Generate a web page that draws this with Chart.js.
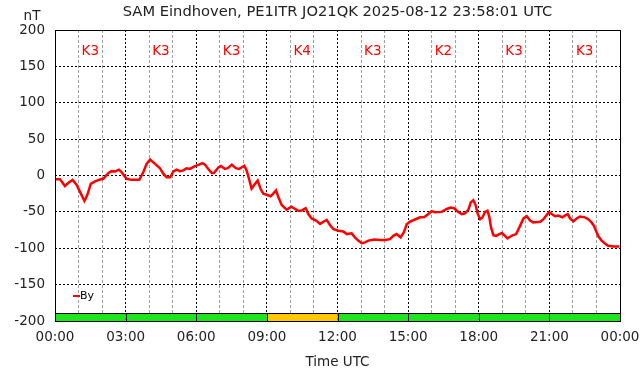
<!DOCTYPE html>
<html>
<head>
<meta charset="utf-8">
<script src="https://cdn.jsdelivr.net/npm/chart.js@4"></script>
<style>
html,body{margin:0;padding:0;background:#fff;}
#wrap{width:642px;height:376px;position:relative;}
</style>
</head>
<body>
<div id="wrap"><canvas id="c" width="642" height="376"></canvas></div>
<script>
const chartTitle = 'SAM Eindhoven, PE1ITR JO21QK 2025-08-12 23:58:01 UTC';
const yUnit = 'nT';
const xTitle = 'Time UTC';
const seriesName = 'By';
const timesH = [0.00,0.21,0.42,0.57,0.75,0.92,1.13,1.25,1.37,1.52,1.70,1.91,2.05,2.27,2.41,2.55,2.72,2.83,3.04,3.26,3.58,3.75,3.89,4.04,4.25,4.46,4.60,4.74,4.89,5.03,5.17,5.31,5.45,5.59,5.73,5.92,6.09,6.26,6.37,6.51,6.66,6.75,6.94,7.05,7.22,7.34,7.51,7.68,7.82,8.04,8.14,8.24,8.35,8.50,8.61,8.74,8.85,8.99,9.16,9.27,9.39,9.49,9.63,9.84,10.05,10.19,10.34,10.48,10.65,10.76,10.90,11.09,11.26,11.40,11.54,11.68,11.82,12.03,12.25,12.39,12.60,12.74,12.88,13.03,13.17,13.31,13.56,13.80,14.02,14.23,14.37,14.51,14.68,14.82,14.94,15.08,15.29,15.51,15.69,15.86,16.00,16.14,16.43,16.64,16.81,16.95,17.13,17.28,17.42,17.56,17.66,17.77,17.87,17.96,18.06,18.15,18.27,18.37,18.45,18.52,18.62,18.74,18.87,18.98,19.08,19.22,19.41,19.59,19.73,19.90,20.04,20.18,20.32,20.61,20.75,20.89,20.99,21.10,21.24,21.38,21.55,21.69,21.78,21.88,22.02,22.16,22.30,22.51,22.65,22.79,22.89,22.98,23.08,23.22,23.36,23.50,23.71,23.97];
const byValues = [-5,-5,-14.5,-10,-6,-13,-27,-35,-27,-11.5,-8,-5.5,-4.5,3.5,6,5.5,8,4.5,-4.5,-6,-6,4.5,16,22,16,10,2.5,-2.5,-2.5,5.5,8,6,7,10,9,12.5,14.5,17,15,9,3.5,3.5,11,13,9,10,15,10,9,13.5,7,-4.5,-18,-11.5,-7,-19,-25,-26.5,-28.5,-25,-20.5,-30,-40.5,-47,-43,-46,-48.5,-48,-45,-53,-59,-62,-66.5,-63.5,-61,-68,-73.5,-76,-77,-80.5,-79.5,-85,-89.5,-93,-92,-89.5,-88,-88.5,-88.5,-87.5,-83,-80.5,-85,-78,-67,-63.5,-60.5,-57.5,-57,-53,-49,-50.5,-50,-46,-44,-45,-50,-53,-52,-47,-37,-34,-41,-53,-60,-58,-50,-48.5,-57,-71,-82,-83,-80.5,-79,-82,-86.5,-82.5,-80.5,-71,-59,-56,-62,-64.5,-63.5,-60,-54,-50.5,-53,-56,-55,-57.5,-54.5,-53,-59,-63,-59,-56.5,-57.5,-60,-64.5,-69,-76,-83.5,-89.5,-93.5,-96.5,-97.5,-97.5];
const kStartH = [0,3,6,9,12,15,18,21];
const kIndex = [3,3,3,4,3,2,3,3];
const xTickLabels = ['00:00','03:00','06:00','09:00','12:00','15:00','18:00','21:00','00:00'];
const yMin = -200, yMax = 200, yStep = 50;

const FONT = "'DejaVu Sans', sans-serif";

const overlay = {
  id: 'overlay',
  beforeDatasetsDraw(chart) {
    const {ctx, chartArea: a, scales: {x, y}} = chart;
    ctx.save();
    const yb0 = y.getPixelForValue(-200), yb1 = y.getPixelForValue(-189);
    kStartH.forEach((h, i) => {
      const x0 = x.getPixelForValue(h), x1 = x.getPixelForValue(h + 3);
      ctx.fillStyle = kIndex[i] >= 4 ? '#ffc800' : '#1ee61e';
      ctx.fillRect(x0, yb1, x1 - x0, yb0 - yb1);
      ctx.strokeStyle = '#000';
      ctx.lineWidth = 1;
      ctx.strokeRect(Math.round(x0) + 0.5, Math.round(yb1) + 0.5, Math.round(x1 - x0), Math.round(yb0 - yb1));
    });
    ctx.fillStyle = '#ff0000';
    ctx.font = '13.5px ' + FONT;
    ctx.textAlign = 'center';
    ctx.textBaseline = 'middle';
    kStartH.forEach((h, i) => {
      ctx.fillText('K' + kIndex[i], x.getPixelForValue(h + 1.5), y.getPixelForValue(171));
    });
    ctx.restore();
  },
  afterDraw(chart) {
    const {ctx, chartArea: a} = chart;
    ctx.save();
    ctx.strokeStyle = '#000';
    ctx.lineWidth = 1;
    ctx.strokeRect(Math.round(a.left) + 0.5, Math.round(a.top) + 0.5, Math.round(a.right - a.left), Math.round(a.bottom - a.top));
    ctx.fillStyle = '#222';
    ctx.textAlign = 'center';
    ctx.textBaseline = 'middle';
    ctx.font = '14.7px ' + FONT;
    ctx.fillText(chartTitle, (a.left + a.right) / 2, 12);
    ctx.font = '13.5px ' + FONT;
    ctx.fillText(yUnit, 32, 16);
    ctx.fillText(xTitle, (a.left + a.right) / 2, 362);
    const ds = chart.data.datasets[0];
    ctx.strokeStyle = ds.borderColor;
    ctx.lineWidth = 2;
    ctx.beginPath();
    ctx.moveTo(73, 296); ctx.lineTo(80, 296); ctx.stroke();
    ctx.fillStyle = '#000';
    ctx.textAlign = 'left';
    ctx.font = '11px ' + FONT;
    ctx.fillText(ds.label, 80, 296);
    ctx.restore();
  }
};

new Chart(document.getElementById('c'), {
  type: 'line',
  data: {
    datasets: [{
      label: seriesName,
      data: timesH.map((t, i) => ({x: t, y: byValues[i]})),
      borderColor: '#ff0000',
      borderWidth: 2.5,
      pointRadius: 0,
      tension: 0,
      fill: false
    }]
  },
  options: {
    responsive: false,
    animation: false,
    layout: {padding: {top: 30, right: 22, left: 0, bottom: 0}},
    plugins: {legend: {display: false}, title: {display: false}, tooltip: {enabled: false}},
    scales: {
      x: {
        type: 'linear', min: 0, max: 24,
        afterFit(s) { s.height = 55; s.paddingLeft = 0; s.paddingRight = 0; },
        afterBuildTicks(s) { s.ticks = []; for (let h = 0; h <= 24; h++) s.ticks.push({value: h}); },
        ticks: {
          autoSkip: false, maxRotation: 0, padding: 8, color: '#222',
          font: {family: FONT, size: 13.5},
          callback: (v) => (v % 3 === 0 ? xTickLabels[v / 3] : '')
        },
        grid: {
          drawTicks: false,
          color: (c) => (c.tick && c.tick.value % 3 === 0 ? '#000' : '#a0a0a0'),
          lineWidth: 1
        },
        border: {display: false, dash: (c) => (c.tick && c.tick.value % 3 === 0 ? [2, 2] : [3, 2])}
      },
      y: {
        min: yMin, max: yMax,
        afterFit(s) { s.width = 55; s.paddingTop = 0; s.paddingBottom = 0; },
        ticks: {stepSize: yStep, padding: 10, color: '#222', font: {family: FONT, size: 13.5}},
        grid: {drawTicks: false, color: '#000', lineWidth: 1},
        border: {display: false, dash: [2, 2]}
      }
    }
  },
  plugins: [overlay]
});
</script>
</body>
</html>
